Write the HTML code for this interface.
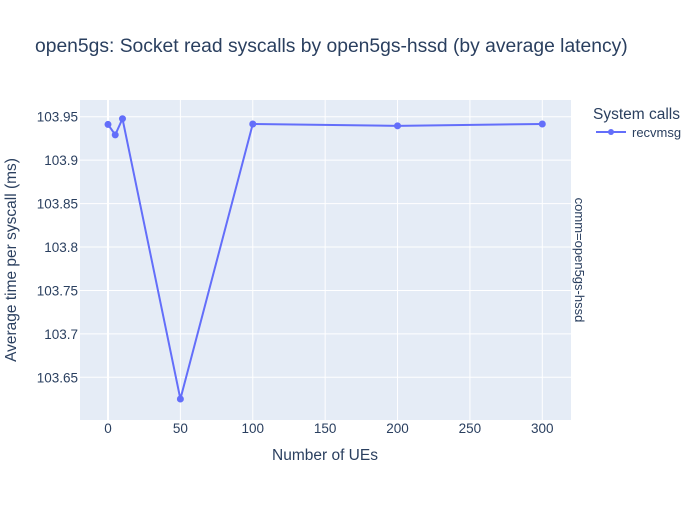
<!DOCTYPE html>
<html><head><meta charset="utf-8"><style>
body{margin:0;background:#fff;}
svg{font-family:"Liberation Sans",sans-serif;}
</style></head><body>
<svg id="chart" width="700" height="500" viewBox="0 0 700 500">
<rect x="0" y="0" width="700" height="500" fill="#fff"/>
<text x="35" y="52" font-size="19.3" fill="#2a3f5f">open5gs: Socket read syscalls by open5gs-hssd (by average latency)</text>
<rect x="80" y="100" width="491" height="320" fill="#e5ecf6"/>
<g id="grid"></g>
<g id="xticks" font-size="13.5" fill="#2a3f5f" text-anchor="middle"></g>
<g id="yticks" font-size="13.5" fill="#2a3f5f" text-anchor="end"></g>
<g id="series"></g>
<text x="325" y="460" font-size="15.5" fill="#2a3f5f" text-anchor="middle">Number of UEs</text>
<text transform="translate(16,260) rotate(-90)" font-size="15.5" fill="#2a3f5f" text-anchor="middle">Average time per syscall (ms)</text>
<text transform="translate(575,260) rotate(90)" font-size="13" fill="#2a3f5f" text-anchor="middle">comm=open5gs-hssd</text>
<text x="593" y="119" font-size="15.5" fill="#2a3f5f">System calls</text>
<g>
<line x1="596" y1="132" x2="626" y2="132" stroke="#636efa" stroke-width="2"/>
<circle cx="611" cy="132" r="3" fill="#636efa"/>
<text x="632" y="137" font-size="13" fill="#2a3f5f">recvmsg</text>
</g>
</svg>
<script>
const categories=[0,5,10,50,100,200,300];
const values=[103.9411,103.9291,103.9477,103.625,103.9416,103.9395,103.9416];
const xTickLabels=[0,50,100,150,200,250,300];
const yTickLabels=[103.65,103.7,103.75,103.8,103.85,103.9,103.95];
const NS="http://www.w3.org/2000/svg";
function xs(v){return 108+v*(542.3-108)/300;}
function ys(v){return 116.7+(103.95-v)*868.7;}
function mk(t,a,p){const e=document.createElementNS(NS,t);for(const k in a)e.setAttribute(k,a[k]);p.appendChild(e);return e;}
const grid=document.getElementById('grid'),xt=document.getElementById('xticks'),yt=document.getElementById('yticks'),ser=document.getElementById('series');
xTickLabels.forEach(v=>{
 const l=mk('line',{x1:xs(v),x2:xs(v),y1:100,y2:420,stroke:'#fff','stroke-width':v===0?2:1},grid);
 
 
 const t=mk('text',{x:xs(v),y:433},xt);t.textContent=v;
 
 
});
yTickLabels.forEach(v=>{
 const l=mk('line',{x1:80,x2:571,y1:ys(v),y2:ys(v),stroke:'#fff','stroke-width':1},grid);
 
 
 const t=mk('text',{x:78,y:ys(v)+5},yt);t.textContent=v;
 
 
});
const pts=categories.map((c,i)=>xs(c)+','+ys(values[i])).join(' ');
const pl=mk('polyline',{points:pts,fill:'none',stroke:'#636efa','stroke-width':2},ser);


categories.forEach((c,i)=>{
 const p=mk('circle',{cx:xs(c),cy:ys(values[i]),r:3.5,fill:'#636efa'},ser);
 
 
});
</script>
</body></html>
